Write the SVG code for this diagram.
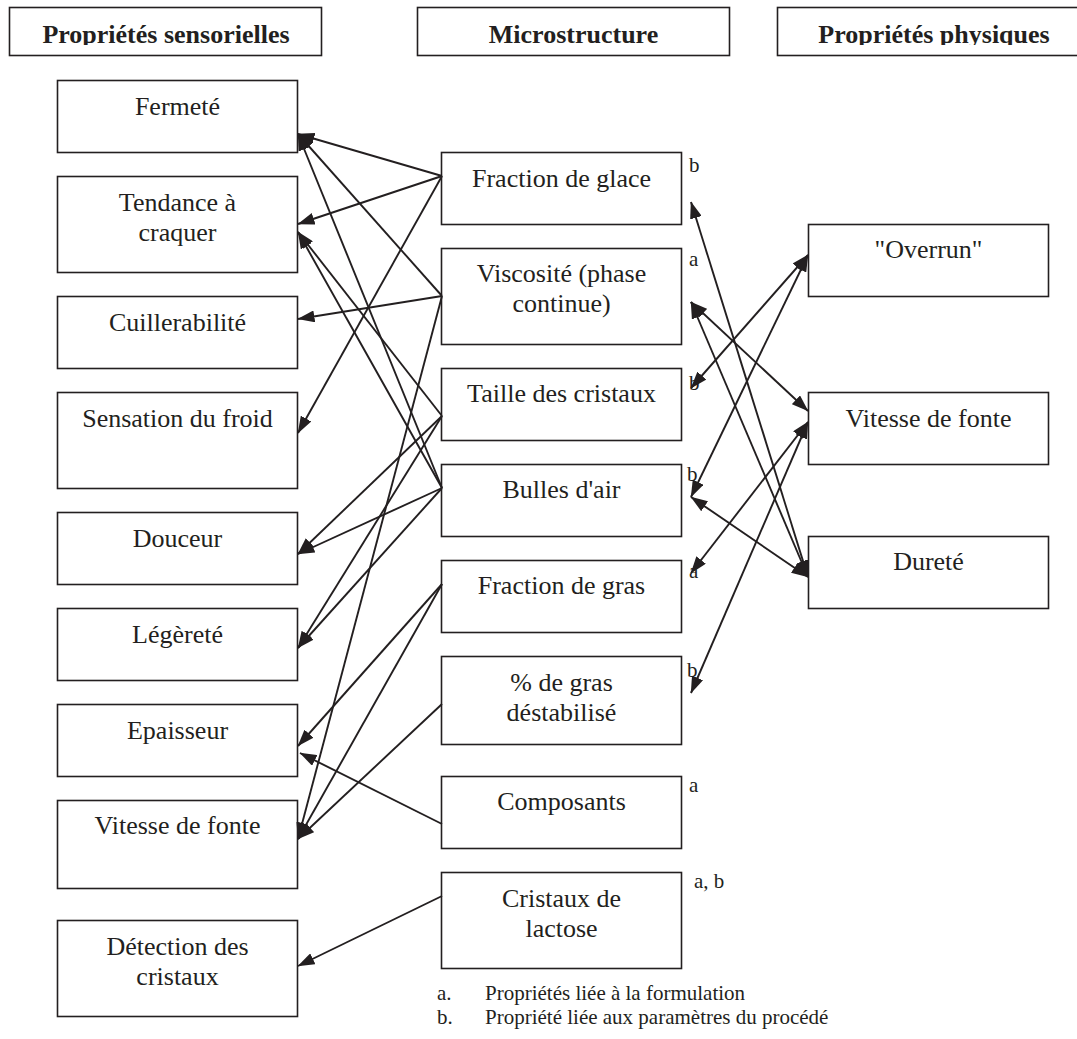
<svg xmlns="http://www.w3.org/2000/svg" width="1077" height="1039" viewBox="0 0 1077 1039">
<style>
  .box{fill:#fff;stroke:#231f20;stroke-width:1.6}
  .t{font-family:"Liberation Serif","Times New Roman",serif;font-size:26px;fill:#231f20;text-anchor:middle}
  .h{font-family:"Liberation Serif","Times New Roman",serif;font-size:26px;font-weight:bold;fill:#231f20;text-anchor:middle}
  .n{font-family:"Liberation Serif","Times New Roman",serif;font-size:21px;fill:#231f20}
  .lg{font-family:"Liberation Serif","Times New Roman",serif;font-size:21px;fill:#231f20}
  .c{fill:none;stroke:#231f20;stroke-width:1.9}
  .one{marker-end:url(#ah)}
  .two{marker-start:url(#ah);marker-end:url(#ah)}
</style>
<defs>
  <marker id="ah" markerUnits="userSpaceOnUse" viewBox="0 0 17 12" markerWidth="17" markerHeight="12" refX="16.5" refY="6" orient="auto-start-reverse">
    <path d="M0,0 L17,6 L0,12 z" fill="#231f20"/>
  </marker>
  <clipPath id="hclip"><rect x="0" y="0" width="1077" height="45"/></clipPath>
</defs>
<rect width="1077" height="1039" fill="#fff"/>

<!-- headers -->
<g id="hdr-sensorielles">
  <rect class="box" x="9.5" y="7.5" width="312" height="48"/>
  <text class="h" x="166" y="43" clip-path="url(#hclip)">Propriétés sensorielles</text>
</g>
<g id="hdr-microstructure">
  <rect class="box" x="417.5" y="7.5" width="312" height="48"/>
  <text class="h" x="573.5" y="43" clip-path="url(#hclip)">Microstructure</text>
</g>
<g id="hdr-physiques">
  <rect class="box" x="777.5" y="7.5" width="320" height="48"/>
  <text class="h" x="934" y="43" clip-path="url(#hclip)">Propriétés physiques</text>
</g>

<!-- left column -->
<g id="fermete"><rect class="box" x="57.5" y="80.5" width="240" height="72"/><text class="t" x="177.5" y="115">Fermeté</text></g>
<g id="tendance"><rect class="box" x="57.5" y="176.5" width="240" height="96"/><text class="t" x="177.5" y="211">Tendance à</text><text class="t" x="177.5" y="241">craquer</text></g>
<g id="cuillerabilite"><rect class="box" x="57.5" y="296.5" width="240" height="72"/><text class="t" x="177.5" y="331">Cuillerabilité</text></g>
<g id="sensation"><rect class="box" x="57.5" y="392.5" width="240" height="96"/><text class="t" x="177.5" y="427">Sensation du froid</text></g>
<g id="douceur"><rect class="box" x="57.5" y="512.5" width="240" height="72"/><text class="t" x="177.5" y="547">Douceur</text></g>
<g id="legerete"><rect class="box" x="57.5" y="608.5" width="240" height="72"/><text class="t" x="177.5" y="643">Légèreté</text></g>
<g id="epaisseur"><rect class="box" x="57.5" y="704.5" width="240" height="72"/><text class="t" x="177.5" y="739">Epaisseur</text></g>
<g id="vitesse-s"><rect class="box" x="57.5" y="800.5" width="240" height="88"/><text class="t" x="177.5" y="834">Vitesse de fonte</text></g>
<g id="detection"><rect class="box" x="57.5" y="920.5" width="240" height="96"/><text class="t" x="177.5" y="955">Détection des</text><text class="t" x="177.5" y="985">cristaux</text></g>

<!-- middle column -->
<g id="fraction-glace"><rect class="box" x="441.5" y="152.5" width="240" height="72"/><text class="t" x="561.5" y="187">Fraction de glace</text><text class="n" x="689" y="172">b</text></g>
<g id="viscosite"><rect class="box" x="441.5" y="248.5" width="240" height="96"/><text class="t" x="561.5" y="282">Viscosité (phase</text><text class="t" x="561.5" y="312">continue)</text><text class="n" x="689" y="266">a</text></g>
<g id="taille"><rect class="box" x="441.5" y="368.5" width="240" height="72"/><text class="t" x="561.5" y="402">Taille des cristaux</text><text class="n" x="689" y="390">b</text></g>
<g id="bulles"><rect class="box" x="441.5" y="464.5" width="240" height="72"/><text class="t" x="561.5" y="498">Bulles d'air</text><text class="n" x="687" y="481">b</text></g>
<g id="fraction-gras"><rect class="box" x="441.5" y="560.5" width="240" height="72"/><text class="t" x="561.5" y="594">Fraction de gras</text><text class="n" x="689" y="578">a</text></g>
<g id="gras-destabilise"><rect class="box" x="441.5" y="656.5" width="240" height="88"/><text class="t" x="561.5" y="691">% de gras</text><text class="t" x="561.5" y="721">déstabilisé</text><text class="n" x="687" y="677">b</text></g>
<g id="composants"><rect class="box" x="441.5" y="776.5" width="240" height="72"/><text class="t" x="561.5" y="810">Composants</text><text class="n" x="689" y="792">a</text></g>
<g id="cristaux-lactose"><rect class="box" x="441.5" y="872.5" width="240" height="96"/><text class="t" x="561.5" y="907">Cristaux de</text><text class="t" x="561.5" y="937">lactose</text><text class="n" x="694" y="888">a, b</text></g>

<!-- right column -->
<g id="overrun"><rect class="box" x="808.5" y="224.5" width="240" height="72"/><text class="t" x="928.5" y="258">"Overrun"</text></g>
<g id="vitesse-p"><rect class="box" x="808.5" y="392.5" width="240" height="72"/><text class="t" x="928.5" y="427">Vitesse de fonte</text></g>
<g id="durete"><rect class="box" x="808.5" y="536.5" width="240" height="72"/><text class="t" x="928.5" y="570">Dureté</text></g>

<!-- legend -->
<g id="legend">
  <text class="lg" x="437" y="1000">a.</text><text class="lg" x="485" y="1000">Propriétés liée à la formulation</text>
  <text class="lg" x="437" y="1024">b.</text><text class="lg" x="485" y="1024">Propriété liée aux paramètres du procédé</text>
</g>

<!-- connectors -->
<g id="connectors">
  <!-- microstructure -> sensorielles -->
  <line class="c one" x1="442" y1="176" x2="298" y2="134"/>
  <line class="c one" x1="442" y1="176" x2="298" y2="224"/>
  <line class="c one" x1="442" y1="176" x2="298" y2="433"/>
  <line class="c one" x1="442" y1="296" x2="298" y2="134"/>
  <line class="c one" x1="442" y1="296" x2="298" y2="319"/>
  <line class="c one" x1="442" y1="296" x2="298" y2="839"/>
  <line class="c one" x1="442" y1="416" x2="298" y2="232"/>
  <line class="c one" x1="442" y1="416" x2="298" y2="554"/>
  <line class="c one" x1="442" y1="416" x2="298" y2="648"/>
  <line class="c one" x1="442" y1="488" x2="298" y2="134"/>
  <line class="c one" x1="442" y1="488" x2="298" y2="232"/>
  <line class="c one" x1="442" y1="488" x2="298" y2="554"/>
  <line class="c one" x1="442" y1="488" x2="298" y2="648"/>
  <line class="c one" x1="442" y1="584" x2="298" y2="746"/>
  <line class="c one" x1="442" y1="584" x2="298" y2="839"/>
  <line class="c one" x1="442" y1="704" x2="298" y2="839"/>
  <line class="c one" x1="442" y1="824" x2="300" y2="753"/>
  <line class="c one" x1="442" y1="896" x2="298" y2="966"/>
  <!-- microstructure <-> physiques -->
  <line class="c two" x1="691" y1="202" x2="808" y2="577"/>
  <line class="c two" x1="691" y1="302" x2="808" y2="411"/>
  <line class="c two" x1="691" y1="302" x2="808" y2="577"/>
  <line class="c two" x1="691" y1="388" x2="808" y2="255"/>
  <line class="c two" x1="691" y1="497" x2="808" y2="255"/>
  <line class="c two" x1="691" y1="497" x2="808" y2="577"/>
  <line class="c two" x1="691" y1="573" x2="808" y2="422"/>
  <line class="c two" x1="691" y1="693" x2="808" y2="422"/>
</g>
</svg>
